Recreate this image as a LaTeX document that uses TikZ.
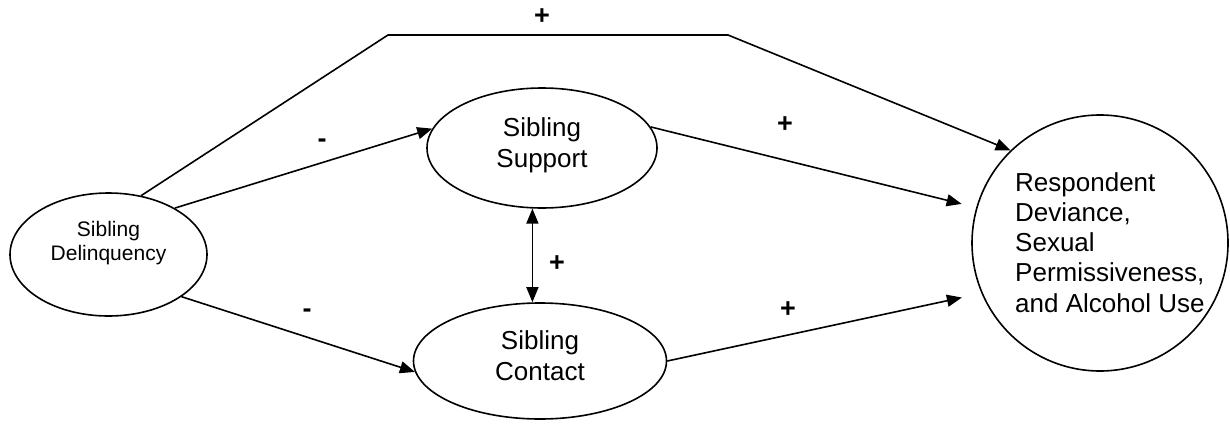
\documentclass[tikz,border=0pt]{standalone}
\usepackage{fontspec}
\setmainfont{Liberation Sans}
\usetikzlibrary{arrows.meta,shapes.geometric}
\begin{document}
\begin{tikzpicture}[x=1pt,y=-1pt,
  oval/.style={draw, line width=1.6pt, ellipse, inner sep=0pt},
  conn/.style={line width=1.6pt, -{Triangle[length=15pt,width=12pt]}},
  both/.style={line width=1.6pt, {Triangle[length=15pt,width=12pt]}-{Triangle[length=15pt,width=12pt]}},
  lbl/.style={inner sep=0pt, font=\fontsize{27}{31}\selectfont\bfseries},
  txt/.style={inner sep=0pt, align=center, font=\fontsize{26}{31}\selectfont}]
\useasboundingbox (0,0) rectangle (1230,423);
% nodes
\node[oval, minimum width=197pt, minimum height=123pt] (del) at (108.5,254.5) {};
\node[oval, minimum width=230pt, minimum height=120pt] (sup) at (542,148) {};
\node[oval, minimum width=253pt, minimum height=116pt] (con) at (540,361) {};
\node[draw, circle, line width=1.6pt, minimum size=256pt, inner sep=0pt] (res) at (1100,243) {};
% texts
\node[txt, font=\fontsize{21}{24}\selectfont] (delT) at (108.5,243) {Sibling\\Delinquency};
\node[txt] (supT) at (542,145.3) {Sibling\\Support};
\node[txt] (conT) at (540,355.4) {Sibling\\Contact};
\node[txt, align=left, anchor=west, font=\fontsize{26}{30.25}\selectfont] (resT) at (1015,242.4) {Respondent\\Deviance,\\Sexual\\Permissiveness,\\and Alcohol Use};
% connectors
\coordinate (c1) at (388,35);
\coordinate (c2) at (728,35);
\draw[conn] (del.61) -- (c1) -- (c2) -- (res.134.7);
\draw[conn] (del.35) -- (sup.170);
\draw[conn] (del.-30) -- (con.185);
\draw[both] (sup.261) -- (sup.261 |- con.north);
\draw[conn, shorten >=15pt] (sup.11) -- (res.164.5);
\draw[conn, shorten >=20pt] (con.east) -- (res.203.3);
% labels
\node[lbl] (p0) at (542,17) {+};
\node[lbl] (m1) at (322,143) {-};
\node[lbl] (m2) at (307,313) {-};
\node[lbl] (p1) at (557,264) {+};
\node[lbl] (p2) at (785,125) {+};
\node[lbl] (p3) at (788,310) {+};
\end{tikzpicture}
\end{document}
